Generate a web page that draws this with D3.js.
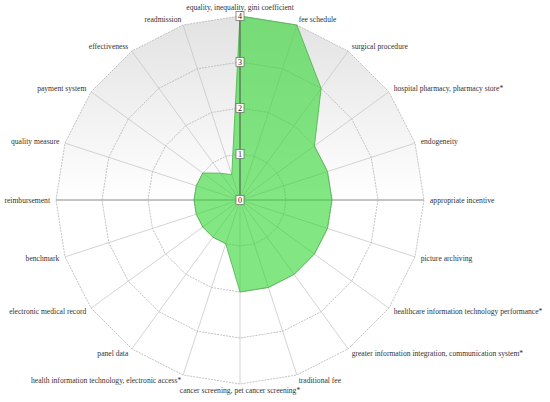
<!DOCTYPE html>
<html>
<head>
<meta charset="utf-8">
<script src="https://cdn.jsdelivr.net/npm/d3@7"></script>
<style>
  body { margin: 0; background: #fff; }
</style>
</head>
<body>
<div id="radar"></div>
<script>
// categories clockwise from the top
var categories = [
  "equality, inequality, gini coefficient",
  "fee schedule",
  "surgical procedure",
  "hospital pharmacy, pharmacy store*",
  "endogeneity",
  "appropriate incentive",
  "picture archiving",
  "healthcare information technology performance*",
  "greater information integration, communication system*",
  "traditional fee",
  "cancer screening, pet cancer screening*",
  "health information technology, electronic access*",
  "panel data",
  "electronic medical record",
  "benchmark",
  "reimbursement",
  "quality measure",
  "payment system",
  "effectiveness",
  "readmission"
];

// series values
var values = [4, 4, 3, 2, 2, 2, 2, 2, 2, 2, 2, 1, 1, 1, 1, 1, 1, 1, 0.72, 0.58];

// tick labels on the radial axis
var ticks = [0, 1, 2, 3, 4];

var width = 550;
var height = 402;
var cx = 240;
var cy = 200;
var outerR = 184;
var labelR = 190;
var serif = "'Liberation Serif', 'DejaVu Serif', serif";

var svg = d3
  .select("#radar")
  .append("svg")
  .attr("width", width)
  .attr("height", height);

//grey fade on the upper half of the plot area
var defs = svg.append("defs");
var grad = defs.append("linearGradient")
  .attr("id", "bgGrad")
  .attr("x1", 0).attr("y1", 0)
  .attr("x2", 0).attr("y2", 1);
grad.append("stop").attr("offset", "0%").attr("stop-color", "#e2e2e2");
grad.append("stop").attr("offset", "50%").attr("stop-color", "#ffffff");
grad.append("stop").attr("offset", "100%").attr("stop-color", "#ffffff");

var g = svg.append("g").attr("transform", "translate(" + cx + "," + cy + ")");

var rScale = d3.scaleLinear().domain([0, d3.max(ticks)]).range([0, outerR]);
var aScale = d3.scaleLinear().domain([0, categories.length]).range([0, 2 * Math.PI]);

var ringLine = d3.lineRadial()
  .angle(function(d, i) { return aScale(i); })
  .radius(function(d) { return rScale(d); })
  .curve(d3.curveLinearClosed);

//background polygon
g.append("path")
  .attr("d", ringLine(categories.map(function() { return d3.max(ticks); })))
  .attr("fill", "url(#bgGrad)")
  .attr("stroke", "none");

//spokes
g.selectAll(".spoke")
  .data(categories)
  .enter()
  .append("line")
  .attr("class", "spoke")
  .attr("x1", 0).attr("y1", 0)
  .attr("x2", function(d, i) { return rScale(d3.max(ticks)) * Math.sin(aScale(i)); })
  .attr("y2", function(d, i) { return -rScale(d3.max(ticks)) * Math.cos(aScale(i)); })
  .attr("stroke", "#c8c8c8")
  .attr("stroke-width", 0.8);

//dashed rings
g.selectAll(".ring")
  .data(ticks.slice(1))
  .enter()
  .append("path")
  .attr("class", "ring")
  .attr("d", function(t) { return ringLine(categories.map(function() { return t; })); })
  .attr("fill", "none")
  .attr("stroke", "#b4b4b4")
  .attr("stroke-width", 0.8)
  .attr("stroke-dasharray", "2,1");

//horizontal axis through the centre
g.append("line")
  .attr("x1", -rScale(d3.max(ticks))).attr("y1", 0)
  .attr("x2", rScale(d3.max(ticks))).attr("y2", 0)
  .attr("stroke", "#a0a0a0")
  .attr("stroke-width", 1.2);

//data polygon
g.append("path")
  .datum(values)
  .attr("d", ringLine)
  .attr("fill", "#2ed62e")
  .attr("fill-opacity", 0.6)
  .attr("stroke", "#4caf4c")
  .attr("stroke-width", 0.8);

//vertical value axis
g.append("line")
  .attr("x1", 0).attr("y1", 0)
  .attr("x2", 0).attr("y2", -rScale(d3.max(ticks)))
  .attr("stroke", "#4a5a4a")
  .attr("stroke-width", 1);

//tick boxes
var tickG = g.selectAll(".tick")
  .data(ticks)
  .enter()
  .append("g")
  .attr("class", "tick")
  .attr("transform", function(d) { return "translate(0," + (-rScale(d)) + ")"; });

tickG.append("rect")
  .attr("x", -4).attr("y", -4.5)
  .attr("width", 8).attr("height", 9)
  .attr("fill", "#fff")
  .attr("stroke", "#666")
  .attr("stroke-width", 0.7);

tickG.append("text")
  .attr("font-family", serif)
  .attr("font-size", 8)
  .attr("fill", "#222")
  .attr("text-anchor", "middle")
  .attr("dy", "0.35em")
  .text(function(d) { return d; });

//category labels
g.selectAll(".axisLabel")
  .data(categories)
  .enter()
  .append("text")
  .attr("class", "axisLabel")
  .attr("font-family", serif)
  .attr("font-size", 7.6)
  .attr("fill", "#333")
  .attr("x", function(d, i) { return labelR * Math.sin(aScale(i)); })
  .attr("y", function(d, i) {
    // the top label sits just above the highest tick box
    var r = i === 0 ? labelR + 3 : labelR;
    return -r * Math.cos(aScale(i));
  })
  .attr("dy", "0.35em")
  .attr("text-anchor", function(d, i) {
    var s = Math.sin(aScale(i));
    if (Math.abs(s) < 0.01) return "middle";
    return s > 0 ? "start" : "end";
  })
  .text(function(d) { return d; });
</script>
</body>
</html>
